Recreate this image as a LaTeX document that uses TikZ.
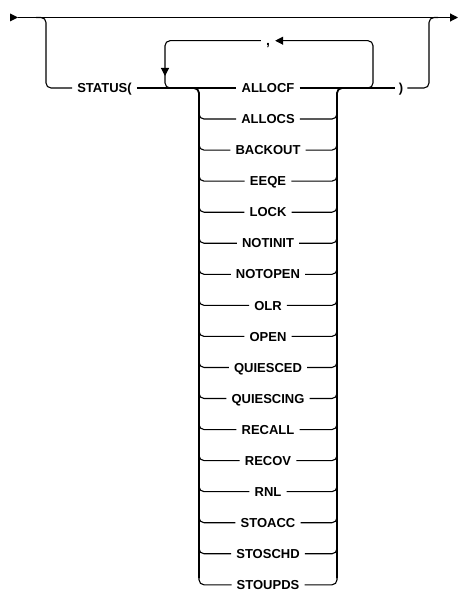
\documentclass[tikz,border=0pt]{standalone}
\usepackage{fontspec}
\setmainfont{Liberation Sans}
\usetikzlibrary{arrows.meta}
\tikzset{
  rail/.style={line width=1.1pt, rounded corners=5pt},
  spine/.style={line width=1.8pt, rounded corners=5pt},
  kw/.style={font=\fontsize{13}{15}\selectfont\bfseries, text height=9.3pt, text depth=0pt, inner xsep=5pt, inner ysep=0pt},
  tip/.style={-{Triangle[length=8pt,width=8pt]}},
}
\newcommand{\kwd}[1]{#1\hspace{6pt}}

\begin{document}
\begin{tikzpicture}[x=1pt,y=-1pt]
  \useasboundingbox (0,0) rectangle (458,591);

  % Draw the main line
  \coordinate (start) at (18,17.5);
  \coordinate (end) at (458,17.5);
  \fill (start) -- ++(-8,-4) -- ++(0,8) -- cycle;
  \draw[rail,tip] (start) -- (end);

  % Draw the STATUS( branch
  \node[kw] (status) at (104.5,88) {\kwd{STATUS(}};
  \node[kw,inner xsep=4pt] (rparen) at (401,88) {)};
  \draw[rail] (36,17.5) -| (46,88) -- (status.west);
  \draw[rail] (rparen.east) -| (429,17.5) -- (438,17.5);

  % Plot the choices
  \foreach \lbl [count=\i from 0] in {ALLOCF,ALLOCS,BACKOUT,EEQE,LOCK,NOTINIT,NOTOPEN,OLR,OPEN,QUIESCED,QUIESCING,RECALL,RECOV,RNL,STOACC,STOSCHD,STOUPDS} {
    \node[kw] (c\i) at (268,88+31.05*\i) {\kwd{\lbl}};
  }
  \foreach \i in {1,...,16} {
    \draw[rail] (199,88+31.05*\i-12) |- (c\i.west);
    \draw[rail] (c\i.east) -| (337,88+31.05*\i-12);
  }
  \draw[rail] (status.east) -- (c0.west);
  \draw[rail] (c0.east) -- (rparen.west);

  % Draw the spines
  \draw[spine] (194,88) -| (199,578);
  \draw[spine] (342,88) -| (337,578);

  % Draw the repeat loop
  \node[kw,inner xsep=0pt,font=\fontsize{14}{15}\selectfont\bfseries] (comma) at (268,40.7) {,};
  \draw[rail,tip] (355,88) -| (373,40.7) -- ([xshift=5pt]comma.east);
  \draw[rail,tip] ([xshift=-5pt]comma.west) -| (165,76);
  \draw[rail] (165,70) |- (185,88);
\end{tikzpicture}
\end{document}
